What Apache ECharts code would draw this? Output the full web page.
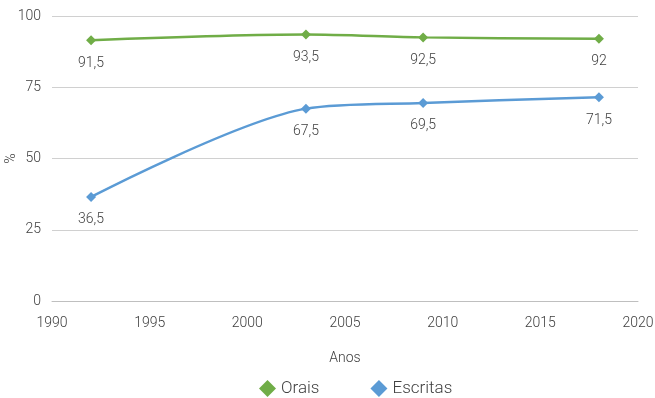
<!DOCTYPE html>
<html>
<head>
<meta charset="utf-8">
<script src="https://cdn.jsdelivr.net/npm/echarts@6/dist/echarts.min.js"></script>
<style>
  html, body { margin: 0; padding: 0; background: #fff; }
  #chart { width: 655px; height: 398px; }
</style>
</head>
<body>
<div id="chart"></div>
<script>
var anos = [1992, 2003, 2009, 2018]
var orais = [91.5, 93.5, 92.5, 92]
var escritas = [36.5, 67.5, 69.5, 71.5]

var textColor = '#404040'
var fontFamily = 'Roboto'

function pairs(xs, ys) {
  return xs.map(function(x, i) { return [x, ys[i]] })
}

function fmt(p) {
  return String(p.value[1]).replace('.', ',')
}

var chart = echarts.init(document.getElementById('chart'))
chart.setOption({
  animation: false,
  textStyle: { fontFamily: fontFamily, fontWeight: 300 },
  grid: { left: 52, right: 17, top: 16, bottom: 97, containLabel: false, outerBoundsMode: 'none' },
  legend: {
    top: 375,
    left: 254,
    itemWidth: 17,
    itemHeight: 17,
    itemGap: 51,
    textStyle: { color: textColor, fontSize: 17, fontWeight: 300, fontFamily: fontFamily },
    data: [
      { name: 'Orais', icon: 'diamond' },
      { name: 'Escritas', icon: 'diamond' }
    ]
  },
  xAxis: {
    type: 'value',
    min: 1990,
    max: 2020,
    interval: 5,
    name: 'Anos',
    nameLocation: 'middle',
    nameGap: 50,
    nameTextStyle: { color: textColor, fontSize: 14, fontWeight: 300 },
    axisLine: { show: true, lineStyle: { color: '#bfbfbf' } },
    axisTick: { show: false },
    splitLine: { show: false },
    axisLabel: { color: textColor, fontSize: 14, fontWeight: 300, margin: 15, formatter: function(v) { return String(v) } }
  },
  yAxis: {
    type: 'value',
    min: 0,
    max: 100,
    interval: 25,
    name: '%',
    nameLocation: 'middle',
    nameGap: 34,
    nameRotate: 90,
    nameMoveOverlap: false,
    nameTextStyle: { color: textColor, fontSize: 14, fontWeight: 300 },
    axisLine: { show: false },
    axisTick: { show: false },
    splitLine: { lineStyle: { color: '#d0d0d0', width: 1 } },
    axisLabel: { color: textColor, fontSize: 14, fontWeight: 300, margin: 11 }
  },
  series: [
    {
      name: 'Orais',
      type: 'line',
      smooth: 0.3,
      data: pairs(anos, orais),
      symbol: 'diamond',
      symbolSize: 10,
      color: '#70ad47',
      lineStyle: { width: 2.5, color: '#70ad47' },
      label: {
        show: true, position: 'bottom', distance: 11,
        color: textColor, fontSize: 14, fontWeight: 300, formatter: fmt
      }
    },
    {
      name: 'Escritas',
      type: 'line',
      smooth: 0.3,
      data: pairs(anos, escritas),
      symbol: 'diamond',
      symbolSize: 10,
      color: '#5b9bd5',
      lineStyle: { width: 2.5, color: '#5b9bd5' },
      label: {
        show: true, position: 'bottom', distance: 11,
        color: textColor, fontSize: 14, fontWeight: 300, formatter: fmt
      }
    }
  ]
})
</script>
</body>
</html>
